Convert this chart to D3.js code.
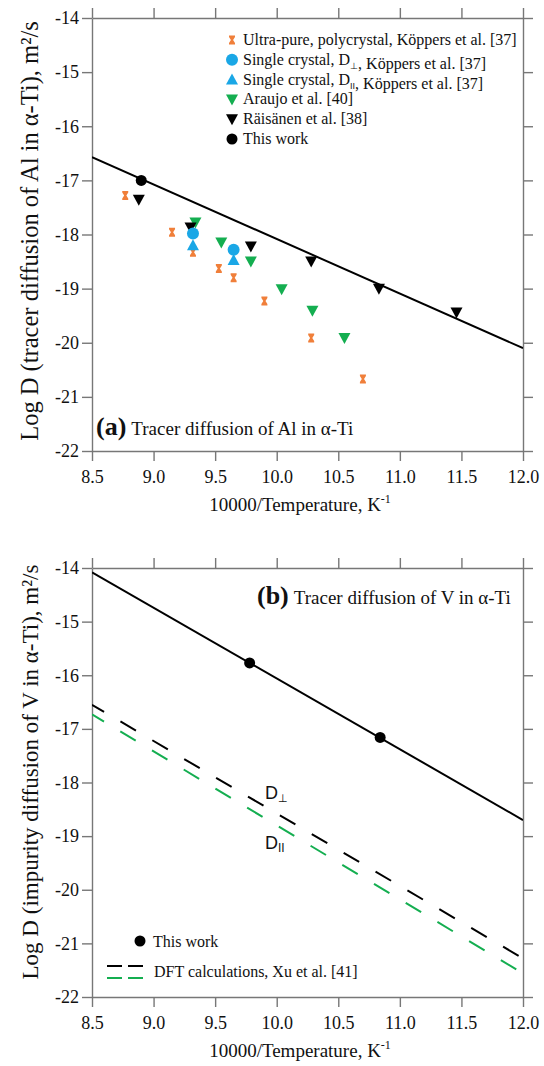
<!DOCTYPE html>
<html>
<head>
<meta charset="utf-8">
<script src="https://cdn.jsdelivr.net/npm/d3@7"></script>
<style>
	body { margin: 0; background: #fff; }
	svg text { font-family: "Liberation Serif", "Times New Roman", serif; fill: #111; }
</style>
</head>
<body>
<div id="app"></div>
<script>
// x ticks / y ticks shared by both panels
const xTicks = [8.5, 9.0, 9.5, 10.0, 10.5, 11.0, 11.5, 12.0];
const yTicks = [-14, -15, -16, -17, -18, -19, -20, -21, -22];

// panel (a): tracer diffusion of Al in alpha-Ti
const ultraPureT = [8.77, 9.15, 9.32, 9.53, 9.65, 9.90, 10.28, 10.70];
const ultraPureD = [-17.28, -17.96, -18.33, -18.63, -18.80, -19.23, -19.91, -20.67];
const perpT = [9.32, 9.65];
const perpD = [-17.98, -18.28];
const parT = [9.32, 9.65];
const parD = [-18.20, -18.47];
const araujoT = [9.34, 9.55, 9.79, 10.04, 10.29, 10.55];
const araujoD = [-17.78, -18.15, -18.50, -19.01, -19.41, -19.91];
const raisanenT = [8.88, 9.30, 9.79, 10.28, 10.83, 11.46];
const raisanenD = [-17.36, -17.87, -18.22, -18.50, -19.00, -19.44];
const thisWorkAlT = [8.90];
const thisWorkAlD = [-17.00];
const fitAlT = [8.5, 12.0];
const fitAlD = [-16.57, -20.10];

// panel (b): impurity diffusion of V in alpha-Ti
const thisWorkVT = [9.78, 10.84];
const thisWorkVD = [-15.77, -17.16];
const fitVT = [8.5, 12.0];
const fitVD = [-14.08, -18.70];
const dftPerpT = [8.5, 12.0];
const dftPerpD = [-16.55, -21.28];
const dftParT = [8.5, 12.0];
const dftParD = [-16.73, -21.56];

const ORANGE = '#f07f3a',
	BLUE = '#1aa7e6',
	GREEN = '#14ae50',
	BLACK = '#000',
	AXIS = '#777';

const W = 544, H = 1066;
const svg = d3.select('#app').append('svg')
	.attr('width', W)
	.attr('height', H);

const zip = (xs, ys) => xs.map((v, i) => ({ t: v, d: ys[i] }));

// marker paths
const shapes = {
	hourglass: 'M-3,-4.5L3,-4.5L3,-3L1.1,0L3,3L3,4.5L-3,4.5L-3,3L-1.1,0L-3,-3Z',
	up: 'M0,-6L6,5L-6,5Z',
	down: 'M-6,-5L6,-5L0,6Z'
};

function marker (g, shape, color, r) {
	if (shape === 'circle') {
		return g.append('circle').attr('r', r).attr('fill', color);
	}
	return g.append('path').attr('d', shapes[shape]).attr('fill', color);
}

function panel (top, bottom, id) {
	const left = 92, right = 523;
	const x = d3.scaleLinear().domain([8.5, 12]).range([left, right]);
	const y = d3.scaleLinear().domain([-14, -22]).range([top, bottom]);

	const g = svg.append('g');

	g.append('clipPath').attr('id', 'clip-' + id)
		.append('rect')
		.attr('x', left).attr('y', top)
		.attr('width', right - left).attr('height', bottom - top);

	const fmtX = d3.format('.1f');
	const fmtY = d => String(d);

	const axes = [
		[d3.axisBottom(x).tickValues(xTicks).tickFormat(fmtX).tickPadding(9), `translate(0,${bottom})`],
		[d3.axisTop(x).tickValues(xTicks).tickFormat(''), `translate(0,${top})`],
		[d3.axisLeft(y).tickValues(yTicks).tickFormat(fmtY).tickPadding(3), `translate(${left},0)`],
		[d3.axisRight(y).tickValues(yTicks).tickFormat(''), `translate(${right},0)`]
	];
	axes.forEach(([ax, tr]) => {
		const a = g.append('g')
			.attr('transform', tr)
			.call(ax.tickSize(10).tickSizeOuter(0));
		a.select('.domain').attr('stroke', AXIS).attr('stroke-width', 1.4);
		a.selectAll('.tick line').attr('stroke', AXIS).attr('stroke-width', 1.4);
		a.selectAll('.tick text')
			.attr('font-family', '"Liberation Serif", serif')
			.attr('font-size', 18)
			.attr('fill', '#111');
	});

	// x title
	const xt = g.append('text')
		.attr('x', 300)
		.attr('y', bottom + 60)
		.attr('text-anchor', 'middle')
		.attr('font-size', 19);
	xt.append('tspan').text('10000/Temperature, K');
	xt.append('tspan').attr('font-size', 12).attr('dy', -8).text('-1');

	const plot = g.append('g').attr('clip-path', `url(#clip-${id})`);

	return { g, plot, x, y };
}

const line = (x, y) => d3.line().x(p => x(p.t)).y(p => y(p.d));

// ---------- panel (a)
{
	const { g, plot, x, y } = panel(18, 451, 'a');

	g.append('text')
		.attr('transform', 'translate(38,231) rotate(-90)')
		.attr('text-anchor', 'middle')
		.attr('font-size', 24.5)
		.text('Log D (tracer diffusion of Al in α-Ti), m²/s');

	plot.append('path')
		.datum(zip(fitAlT, fitAlD))
		.attr('d', line(x, y))
		.attr('fill', 'none')
		.attr('stroke', BLACK)
		.attr('stroke-width', 2);

	const series = [
		{ pts: zip(ultraPureT, ultraPureD), shape: 'hourglass', color: ORANGE },
		{ pts: zip(araujoT, araujoD), shape: 'down', color: GREEN },
		{ pts: zip(raisanenT, raisanenD), shape: 'down', color: BLACK },
		{ pts: zip(parT, parD), shape: 'up', color: BLUE },
		{ pts: zip(perpT, perpD), shape: 'circle', color: BLUE, r: 6 },
		{ pts: zip(thisWorkAlT, thisWorkAlD), shape: 'circle', color: BLACK, r: 5.5 }
	];
	series.forEach(s => {
		s.pts.forEach(p => {
			const m = plot.append('g').attr('transform', `translate(${x(p.t)},${y(p.d)})`);
			marker(m, s.shape, s.color, s.r);
		});
	});

	// legend
	const legend = [
		{ shape: 'hourglass', color: ORANGE, parts: [['Ultra-pure, polycrystal, Köppers et al. [37]']] },
		{ shape: 'circle', color: BLUE, r: 6, parts: [['Single crystal, D'], ['⊥', 'sub'], [', Köppers et al. [37]']] },
		{ shape: 'up', color: BLUE, parts: [['Single crystal, D'], ['II', 'sub'], [', Köppers et al. [37]']] },
		{ shape: 'down', color: GREEN, parts: [['Araujo et al. [40]']] },
		{ shape: 'down', color: BLACK, parts: [['Räisänen et al. [38]']] },
		{ shape: 'circle', color: BLACK, r: 5.5, parts: [['This work']] }
	];
	legend.forEach((L, i) => {
		const cy = 40 + i * 19.8;
		const m = g.append('g').attr('transform', `translate(232,${cy})`);
		marker(m, L.shape, L.color, L.r);
		const t = g.append('text')
			.attr('x', 243)
			.attr('y', cy + 5)
			.attr('font-size', 16);
		L.parts.forEach(([s, k]) => {
			if (k === 'sub') {
				t.append('tspan').attr('font-size', 9).attr('dy', 4)
					.attr('font-family', '"Liberation Sans", sans-serif').text(s);
				t.append('tspan').attr('dy', -4).text('');
			} else {
				t.append('tspan').text(s);
			}
		});
	});

	const lab = g.append('text').attr('x', 96).attr('y', 435).attr('font-size', 19);
	lab.append('tspan').attr('font-size', 26).attr('font-weight', 'bold').text('(a)');
	lab.append('tspan').attr('dx', 5).text('Tracer diffusion of Al in α-Ti');
}

// ---------- panel (b)
{
	const { g, plot, x, y } = panel(568, 997, 'b');

	g.append('text')
		.attr('transform', 'translate(38,772) rotate(-90)')
		.attr('text-anchor', 'middle')
		.attr('font-size', 23)
		.text('Log D (impurity diffusion of V in α-Ti), m²/s');

	plot.append('path')
		.datum(zip(dftPerpT, dftPerpD))
		.attr('d', line(x, y))
		.attr('fill', 'none')
		.attr('stroke', BLACK)
		.attr('stroke-width', 2)
		.attr('stroke-dasharray', '18,19')
		.attr('stroke-dashoffset', 4);

	plot.append('path')
		.datum(zip(dftParT, dftParD))
		.attr('d', line(x, y))
		.attr('fill', 'none')
		.attr('stroke', GREEN)
		.attr('stroke-width', 2)
		.attr('stroke-dasharray', '18,19')
		.attr('stroke-dashoffset', 4);

	plot.append('path')
		.datum(zip(fitVT, fitVD))
		.attr('d', line(x, y))
		.attr('fill', 'none')
		.attr('stroke', BLACK)
		.attr('stroke-width', 2);

	zip(thisWorkVT, thisWorkVD).forEach(p => {
		plot.append('circle')
			.attr('cx', x(p.t)).attr('cy', y(p.d))
			.attr('r', 5.5).attr('fill', BLACK);
	});

	// D labels on the DFT lines
	const sans = '"Liberation Sans", Arial, sans-serif';
	const d1 = g.append('text').attr('x', 265).attr('y', 799)
		.attr('font-family', sans).attr('font-size', 18);
	d1.append('tspan').attr('font-family', sans).text('D');
	d1.append('tspan').attr('font-family', '"DejaVu Sans", sans-serif').attr('font-size', 11).attr('dy', 3).text('⊥');
	const d2 = g.append('text').attr('x', 265).attr('y', 849)
		.attr('font-family', sans).attr('font-size', 18);
	d2.append('tspan').attr('font-family', sans).text('D');
	d2.append('tspan').attr('font-family', sans).attr('font-size', 12).attr('dy', 3).text('II');

	const lab = g.append('text').attr('x', 257).attr('y', 604).attr('font-size', 19);
	lab.append('tspan').attr('font-size', 26).attr('font-weight', 'bold').text('(b)');
	lab.append('tspan').attr('dx', 5).text('Tracer diffusion of V in α-Ti');

	// legend
	g.append('circle').attr('cx', 140).attr('cy', 941).attr('r', 5.5).attr('fill', BLACK);
	g.append('text').attr('x', 153).attr('y', 947).attr('font-size', 16).text('This work');
	[[966, BLACK], [978, GREEN]].forEach(([ly, c]) => {
		g.append('line')
			.attr('x1', 107).attr('x2', 143)
			.attr('y1', ly).attr('y2', ly)
			.attr('stroke', c).attr('stroke-width', 2)
			.attr('stroke-dasharray', '15,6');
	});
	g.append('text').attr('x', 154).attr('y', 977).attr('font-size', 16)
		.text('DFT calculations, Xu et al. [41]');
}
</script>
</body>
</html>
